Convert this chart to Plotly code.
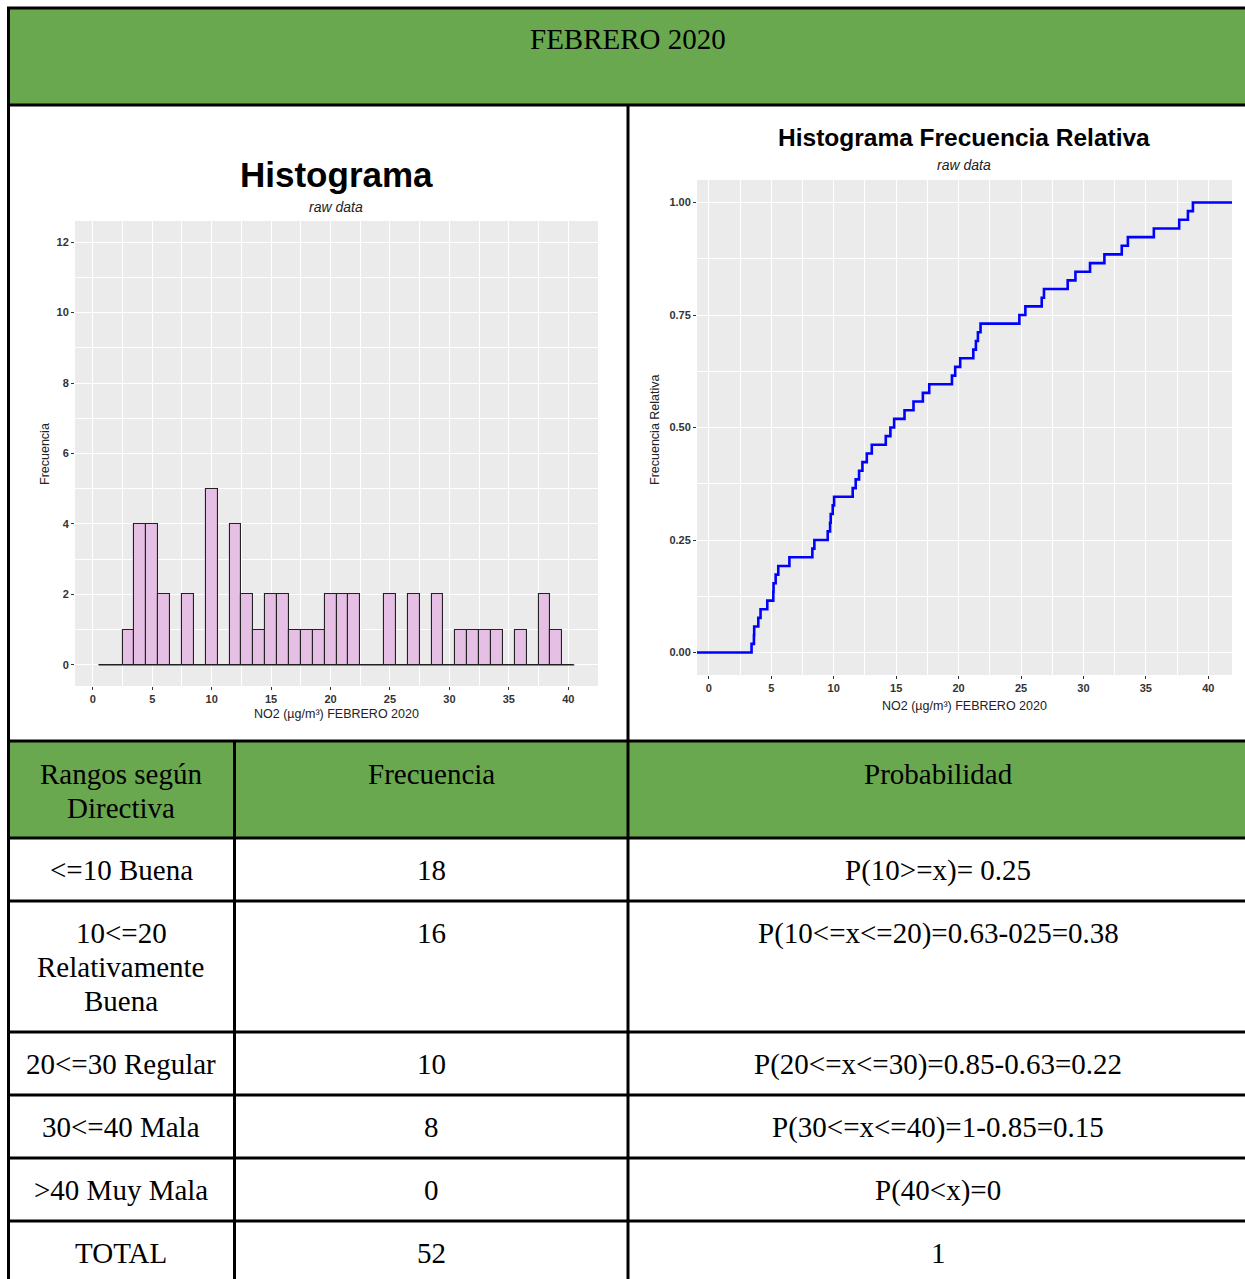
import numpy as np
import plotly.graph_objects as go

# ---------------- data ----------------
no2_values = [3.42, 3.61, 3.63, 3.96, 4.14, 4.68, 5.16, 5.18, 5.35, 5.56,
              6.45, 8.29, 8.45, 9.52, 9.71, 9.76, 9.92, 10.03, 11.52, 11.76,
              12.03, 12.30, 12.65, 13.05, 14.17, 14.54, 14.84, 15.67, 16.39, 17.14,
              17.65, 19.47, 19.73, 20.13, 21.18, 21.39, 21.55, 21.76, 24.87, 25.35,
              26.66, 26.84, 28.74, 29.36, 30.53, 31.68, 33.07, 33.56, 35.64, 37.67,
              38.37, 38.77]
bin_edges = np.arange(0.5, 41.5, 1.0)

month_title = "FEBRERO 2020"
hist_title = "Histograma"
ecdf_title = "Histograma Frecuencia Relativa"
subtitle = "raw data"
x_axis_title = "NO2 (µg/m³) FEBRERO 2020"

table_header = [["Rangos según", "Directiva"], ["Frecuencia"], ["Probabilidad"]]
range_labels = [["&lt;=10 Buena"], ["10&lt;=20", "Relativamente", "Buena"], ["20&lt;=30 Regular"],
                ["30&lt;=40 Mala"], ["&gt;40 Muy Mala"], ["TOTAL"]]
frequencies = ["18", "16", "10", "8", "0", "52"]
probabilities = ["P(10&gt;=x)= 0.25", "P(10&lt;=x&lt;=20)=0.63-025=0.38",
                 "P(20&lt;=x&lt;=30)=0.85-0.63=0.22", "P(30&lt;=x&lt;=40)=1-0.85=0.15",
                 "P(40&lt;x)=0", "1"]

# ---------------- layout helpers ----------------
W, H = 1245, 1279
def X(px):
    return px / W
def Y(py):
    return 1 - py / H

GREEN = "#6AA84F"
SERIF = "Liberation Serif"
SANS = "Liberation Sans"

fig = go.Figure()

# ---------------- histogram ----------------
vals = np.array(no2_values)
counts, _ = np.histogram(vals, bins=bin_edges)
centers = (bin_edges[:-1] + bin_edges[1:]) / 2
fig.add_trace(go.Bar(x=centers, y=counts, width=1.0, xaxis="x", yaxis="y",
                     marker=dict(color="#E6C0E4", line=dict(color="#222222", width=1.1)),
                     showlegend=False, hoverinfo="skip"))
fig.add_trace(go.Scatter(x=[bin_edges[0], bin_edges[-1]], y=[0, 0], mode="lines",
                         xaxis="x", yaxis="y", line=dict(color="#222222", width=1.1),
                         showlegend=False, hoverinfo="skip"))

# ---------------- ECDF ----------------
sv = np.sort(vals)
n = len(sv)
ex = np.concatenate([[-10], sv, [60]])
ey = np.concatenate([[0], np.arange(1, n + 1) / n, [1]])
fig.add_trace(go.Scatter(x=ex, y=ey, mode="lines", line_shape="hv", xaxis="x2", yaxis="y2",
                         line=dict(color="#0000FF", width=2.6), showlegend=False, hoverinfo="skip"))

tickfont = dict(family=SANS, size=11, color="#333333", weight="bold")
common = dict(showgrid=True, gridcolor="white", gridwidth=1.2, zeroline=False, showline=False,
              ticks="outside", ticklen=3, tickcolor="#333333", tickwidth=1, tickfont=tickfont,
              fixedrange=True)
minor = dict(showgrid=True, gridcolor="white", gridwidth=0.6, ticks="")

fig.update_layout(
    width=W, height=H, autosize=False,
    margin=dict(l=0, r=0, t=0, b=0),
    paper_bgcolor="white", plot_bgcolor="#EBEBEB",
    bargap=0,
    xaxis=dict(domain=[X(75), X(598)], anchor="y", range=[-1.5, 42.5],
               tickvals=list(range(0, 41, 5)), minor=dict(dtick=2.5, tick0=0, **minor), **common),
    yaxis=dict(domain=[Y(686), Y(221)], anchor="x", range=[-0.6, 12.6],
               tickvals=list(range(0, 13, 2)), minor=dict(dtick=1, tick0=0, **minor), **common),
    xaxis2=dict(domain=[X(697), X(1232)], anchor="y2", range=[-0.95, 41.9],
                tickvals=list(range(0, 41, 5)), minor=dict(dtick=2.5, tick0=0, **minor), **common),
    yaxis2=dict(domain=[Y(675), Y(180)], anchor="x2", range=[-0.05, 1.05],
                tickvals=[0, 0.25, 0.5, 0.75, 1.0], tickformat=".2f",
                minor=dict(dtick=0.125, tick0=0, **minor), **common),
)

# ---------------- table shapes ----------------
shapes = []
def rect(x0, y0, x1, y1, color):
    shapes.append(dict(type="rect", xref="paper", yref="paper", x0=X(x0), x1=X(x1),
                       y0=Y(y1), y1=Y(y0), fillcolor=color, line=dict(width=0), layer="below"))
def hline(y, x0, x1):
    shapes.append(dict(type="line", xref="paper", yref="paper", x0=X(x0), x1=X(x1),
                       y0=Y(y), y1=Y(y), line=dict(color="black", width=3), layer="above"))
def vline(x, y0, y1):
    shapes.append(dict(type="line", xref="paper", yref="paper", x0=X(x), x1=X(x),
                       y0=Y(y0), y1=Y(y1), line=dict(color="black", width=3), layer="above"))

rect(8, 8, 1245, 105, GREEN)
rect(8, 741, 1245, 838, GREEN)
row_lines = [8, 105, 741, 838, 901, 1032, 1095, 1158, 1221]
for ry in row_lines:
    hline(ry, 7, 1245)
vline(8.5, 7, 1279)
vline(628, 105, 1279)
vline(234.5, 741, 1279)
fig.update_layout(shapes=shapes)

# ---------------- annotations ----------------
ann = []
def text(t, px, py, size, family=SERIF, color="black", bold=False, italic=False, angle=0):
    ann.append(dict(text=t, x=X(px), y=Y(py), xref="paper", yref="paper", showarrow=False,
                    xanchor="center", yanchor="middle", textangle=angle,
                    font=dict(family=family, size=size, color=color,
                              weight="bold" if bold else "normal",
                              style="italic" if italic else "normal")))

text(month_title, 628, 39.5, 29)

col_x = [121, 431, 938]
LINE = 34
for ci, lines in enumerate(table_header):
    for li, t in enumerate(lines):
        text(t, col_x[ci], 774 + li * LINE, 29)

row_tops = [838, 901, 1032, 1095, 1158, 1221]
for ri, top in enumerate(row_tops):
    base = top + 32
    for li, t in enumerate(range_labels[ri]):
        text(t, col_x[0], base + li * LINE, 29)
    text(frequencies[ri], col_x[1], base, 29)
    text(probabilities[ri], col_x[2], base, 29)

# chart titles
text(hist_title, 336, 175, 35, family=SANS, bold=True)
text(subtitle, 336, 207, 14, family=SANS, color="#222222", italic=True)
text(x_axis_title, 336, 714, 12.5, family=SANS, color="#222222")
text("Frecuencia", 45, 454, 12.5, family=SANS, color="#222222", angle=-90)

text(ecdf_title, 964, 137, 24.5, family=SANS, bold=True)
text(subtitle, 964, 165, 14, family=SANS, color="#222222", italic=True)
text(x_axis_title, 964, 706, 12.5, family=SANS, color="#222222")
text("Frecuencia Relativa", 655, 430, 12.5, family=SANS, color="#222222", angle=-90)

fig.update_layout(annotations=ann)

fig.write_html("out.html", config={"displayModeBar": False},
               post_script="document.body.style.margin='0';document.body.style.overflow='hidden';")
